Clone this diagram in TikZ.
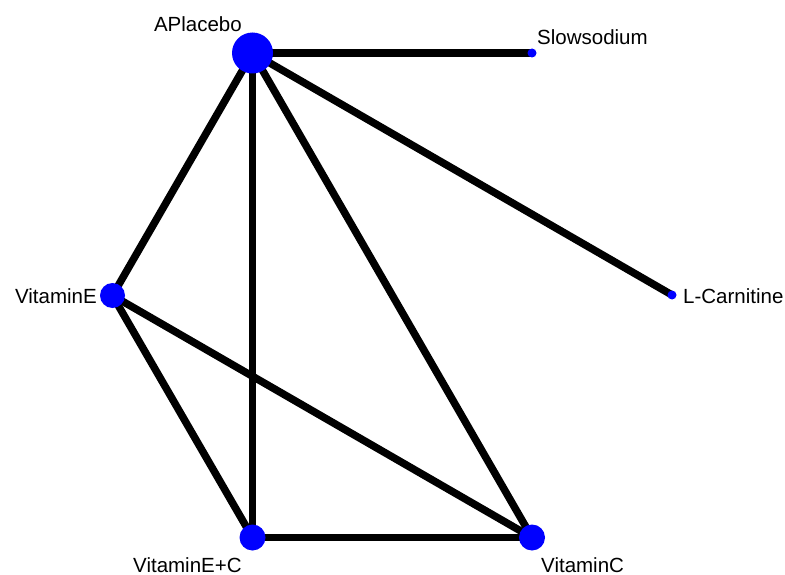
\documentclass[tikz,border=0pt]{standalone}
\usepackage{fontspec}
\setmainfont{Liberation Sans}
\usetikzlibrary{backgrounds}
\begin{document}
\begin{tikzpicture}[x=1pt,y=-1pt,
  trt/.style={circle,fill=blue,draw=none,inner sep=0pt,minimum size=#1},
  lbl/.style={inner sep=0pt,font=\fontsize{20.5}{24}\selectfont},
  link/.style={line width=7.5pt,draw=black}]
\useasboundingbox (0,0) rectangle (785,575);
% treatments
\node[trt=41pt] (pla) at (252.5,53) {};
\node[trt=9pt] (slo) at (532,53) {};
\node[trt=9pt] (car) at (672,295) {};
\node[trt=25pt] (vie) at (112.5,295.5) {};
\node[trt=26pt] (vec) at (252.5,537.5) {};
\node[trt=26pt] (vic) at (532,537.5) {};
% labels
\node[lbl,anchor=base east] (lpla) at (242,32) {APlacebo};
\node[lbl,anchor=base west] (lslo) at (537,45) {Slowsodium};
\node[lbl,anchor=base west] (lcar) at (683,303) {L-Carnitine};
\node[lbl,anchor=base east] (lvie) at (97,303) {VitaminE};
\node[lbl,anchor=base west] (lvec) at (133,572) {VitaminE+C};
\node[lbl,anchor=base west] (lvic) at (541,572) {VitaminC};
% comparisons
\begin{scope}[on background layer]
\draw[link] (pla.center) -- (slo.center);
\draw[link] (pla.center) -- (car.center);
\draw[link] (pla.center) -- (vie.center);
\draw[link] (pla.center) -- (vec.center);
\draw[link] (pla.center) -- (vic.center);
\draw[link] (vie.center) -- (vec.center);
\draw[link] (vie.center) -- (vic.center);
\draw[link] (vec.center) -- (vic.center);
\end{scope}
\end{tikzpicture}
\end{document}
